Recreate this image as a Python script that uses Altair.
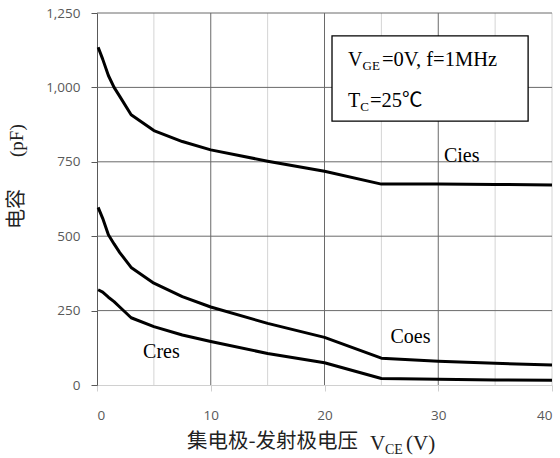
import altair as alt
import pandas as pd

# ---- data ----
vce = [0.1, 0.5, 1, 1.5, 2, 3, 5, 7.5, 10, 15, 20, 25, 30, 35, 40]
cies = [1135, 1095, 1040, 1000, 970, 908, 855, 818, 790, 752, 718, 675, 675, 674, 672]
coes = [597, 560, 505, 474, 445, 395, 342, 297, 262, 207, 160, 90, 80, 73, 67]
cres = [320, 312, 295, 280, 262, 226, 196, 168, 146, 106, 75, 22, 19, 17, 16]
series_names = ["Cies", "Coes", "Cres"]

x_ticks = [0, 10, 20, 30, 40]
y_ticks = [0, 250, 500, 750, 1000, 1250]
grid_major_x = [10, 20, 30]
grid_minor_x = [5, 15, 25, 35, 40]
grid_y = [250, 500, 750, 1000, 1250]

label_x = [30.5, 25.8, 4.05]
label_y = [750, 140, 90]

box_x = [20.66]
box_x2 = [37.9]
box_y = [1173]
box_y2 = [887]
note_x = 22.07
note_y1 = 1072
note_y2 = 933

# ---- tables ----
rows = []
for name, vals in zip(series_names, [cies, coes, cres]):
    for xv, yv in zip(vce, vals):
        rows.append({"vce": xv, "c": yv, "series": name})
df_lines = pd.DataFrame(rows)
df_major = pd.DataFrame({"vce": grid_major_x})
df_minor = pd.DataFrame({"vce": grid_minor_x})
df_gy = pd.DataFrame({"c": grid_y})
df_labels = pd.DataFrame({"vce": label_x, "c": label_y, "t": series_names})
df_box = pd.DataFrame({"vce": box_x, "x2": box_x2, "c": box_y, "y2": box_y2})
df_note1 = pd.DataFrame({"vce": [note_x], "c": [note_y1]})
df_note2 = pd.DataFrame({"vce": [note_x], "c": [note_y2]})

xs = alt.Scale(domain=[0, 40], nice=False, zero=False)
ys = alt.Scale(domain=[0, 1250], nice=False)

SERIF = "Liberation Serif, Noto Sans CJK SC"
CJK = "Noto Sans CJK SC"

x_axis = alt.Axis(values=x_ticks, grid=False, title=None, format="d", domainColor="#d0d0d0",
                  tickColor="#d0d0d0", tickSize=6, labelPadding=17, labelFont="Open Sans",
                  labelFontSize=13.5, labelColor="#595959")
y_axis = alt.Axis(values=y_ticks, grid=False, title=None, format=",.0f", domainColor="#595959",
                  tickColor="#595959", tickSize=6, labelPadding=11, labelFont="Open Sans",
                  labelFontSize=13.5, labelColor="#595959")

X = alt.X("vce:Q", scale=xs, axis=x_axis)
Y = alt.Y("c:Q", scale=ys, axis=y_axis)

minor = alt.Chart(df_minor).mark_rule(color="#d4d4d4", strokeWidth=1).encode(x=X)
major = alt.Chart(df_major).mark_rule(color="#6a6a6a", strokeWidth=1).encode(x=X)
hgrid = alt.Chart(df_gy).mark_rule(color="#6a6a6a", strokeWidth=1).encode(y=Y)

lines = alt.Chart(df_lines).mark_line(color="black", strokeWidth=3, strokeJoin="round").encode(
    x=X, y=Y, detail="series:N")

labels = alt.Chart(df_labels).mark_text(font=SERIF, fontSize=20, align="left",
                                        baseline="alphabetic", color="black").encode(
    x=X, y=Y, text="t:N")

box = alt.Chart(df_box).mark_rect(fill="white", stroke="black", strokeWidth=1.3).encode(
    x=X, x2="x2:Q", y=Y, y2="y2:Q")


def note_piece(df, txt, size, dx, dy):
    return alt.Chart(df).mark_text(font=SERIF, fontSize=size, align="left", baseline="alphabetic",
                                   color="black", dx=dx, dy=dy, text=txt).encode(x=X, y=Y)


notes = [
    note_piece(df_note1, "V", 20, 0, 0),
    note_piece(df_note1, "GE", 13, 14.5, 4),
    note_piece(df_note1, "=0V, f=1MHz", 20.5, 34, 0),
    note_piece(df_note2, "T", 20, 0, 0),
    note_piece(df_note2, "C", 13, 12.2, 4),
    note_piece(df_note2, "=25℃", 20.5, 22, 0),
]


def title_piece(txt, font, size, x, y, angle=0, baseline="alphabetic"):
    kw = dict(font=font, fontSize=size, align="left", baseline=baseline, color="#222222", text=txt)
    if angle:
        kw["angle"] = angle
    return alt.Chart(df_box).mark_text(**kw).encode(x=alt.value(x), y=alt.value(y))


titles = [
    title_piece("集电极-发射极电压", CJK, 20.5, 90, 435),
    title_piece("V", "Liberation Serif", 21, 273, 437),
    title_piece("CE", "Liberation Serif", 14, 288, 441),
    title_piece("(V)", "Liberation Serif", 21, 309, 437),
    title_piece("电容", CJK, 20, -80, 216, angle=270, baseline="middle"),
    title_piece("(pF)", "Liberation Serif", 19, -80, 144, angle=270, baseline="middle"),
]

chart = alt.layer(minor, major, hgrid, lines, labels, box, *notes, *titles).properties(
    width=455, height=372,
    autosize=alt.AutoSizeParams(type="none"),
    padding={"left": 97, "top": 13, "right": 8, "bottom": 73},
    background="white",
).configure_view(strokeWidth=0)

chart.save("out.html", embed_options={"renderer": "svg", "actions": False})
